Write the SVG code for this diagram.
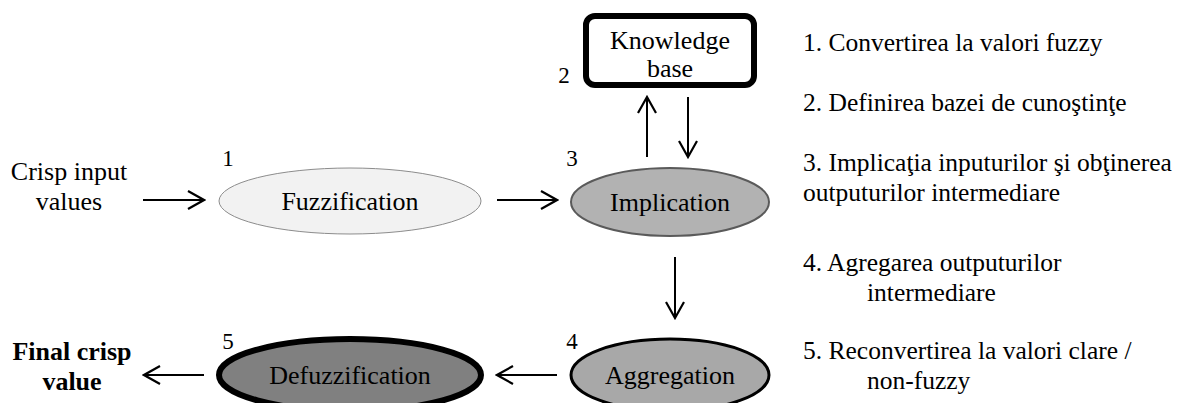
<svg xmlns="http://www.w3.org/2000/svg" width="1188" height="403" viewBox="0 0 1188 403" font-family="'Liberation Serif', 'DejaVu Serif', serif">
<defs>
<marker id="ah" viewBox="0 0 20 20" refX="18" refY="10" markerWidth="20" markerHeight="20" markerUnits="userSpaceOnUse" orient="auto">
<polyline points="2,1 18,10 2,19" fill="none" stroke="#000" stroke-width="2.2"/>
</marker>
<style>
text{font-family:'Liberation Serif','DejaVu Serif',serif;fill:#000;}
.t{font-size:26px;text-anchor:middle;}
.n{font-size:23px;text-anchor:middle;}
.r{font-size:25.5px;}
.b{font-weight:bold;}
.c{stroke:#000;stroke-width:2;fill:none;marker-end:url(#ah);}
</style>
</defs>
<rect width="1188" height="403" fill="#fff"/>
<g id="connectors">
<line class="c" x1="143" y1="200" x2="204" y2="200"/>
<line class="c" x1="497" y1="200" x2="557" y2="200"/>
<line class="c" x1="647" y1="157" x2="647" y2="97"/>
<line class="c" x1="688" y1="97" x2="688" y2="157"/>
<line class="c" x1="675" y1="257" x2="675" y2="318"/>
<line class="c" x1="557" y1="375" x2="497" y2="375"/>
<line class="c" x1="204" y1="375" x2="144" y2="375"/>
</g>
<g id="crisp-input">
<text class="t" x="69" y="180">Crisp input</text>
<text class="t" x="69" y="210">values</text>
</g>
<g id="fuzzification">
<ellipse cx="350" cy="201" rx="131" ry="33" fill="#f2f2f2" stroke="#8c8c8c" stroke-width="1"/>
<text class="t" x="350" y="210">Fuzzification</text>
<text class="n" x="228" y="166">1</text>
</g>
<g id="knowledge-base">
<rect x="586" y="16" width="168" height="69" rx="9" fill="#fff" stroke="#000" stroke-width="6"/>
<text class="t" x="670" y="49">Knowledge</text>
<text class="t" x="670" y="77">base</text>
<text class="n" x="564" y="83">2</text>
</g>
<g id="implication">
<ellipse cx="670" cy="202" rx="99" ry="34" fill="#b2b2b2" stroke="#5a5a5a" stroke-width="2"/>
<text class="t" x="670" y="211">Implication</text>
<text class="n" x="572" y="166">3</text>
</g>
<g id="aggregation">
<ellipse cx="670" cy="375" rx="99" ry="36" fill="#a8a8a8" stroke="#000" stroke-width="3"/>
<text class="t" x="670" y="384">Aggregation</text>
<text class="n" x="572" y="349">4</text>
</g>
<g id="defuzzification">
<ellipse cx="350" cy="375" rx="131" ry="36" fill="#808080" stroke="#000" stroke-width="6"/>
<text class="t" x="350" y="384">Defuzzification</text>
<text class="n" x="228" y="349">5</text>
</g>
<g id="final-crisp">
<text class="t b" x="72" y="360">Final crisp</text>
<text class="t b" x="72" y="390">value</text>
</g>
<g id="legend">
<text class="r" x="803" y="51">1. Convertirea la valori fuzzy</text>
<text class="r" x="803" y="111">2. Definirea bazei de cunoştinţe</text>
<text class="r" x="803" y="171">3. Implicaţia inputurilor şi obţinerea</text>
<text class="r" x="803" y="201">outputurilor intermediare</text>
<text class="r" x="803" y="271">4. Agregarea outputurilor</text>
<text class="r" x="867" y="301">intermediare</text>
<text class="r" x="803" y="359">5. Reconvertirea la valori clare /</text>
<text class="r" x="867" y="389">non-fuzzy</text>
</g>
</svg>
